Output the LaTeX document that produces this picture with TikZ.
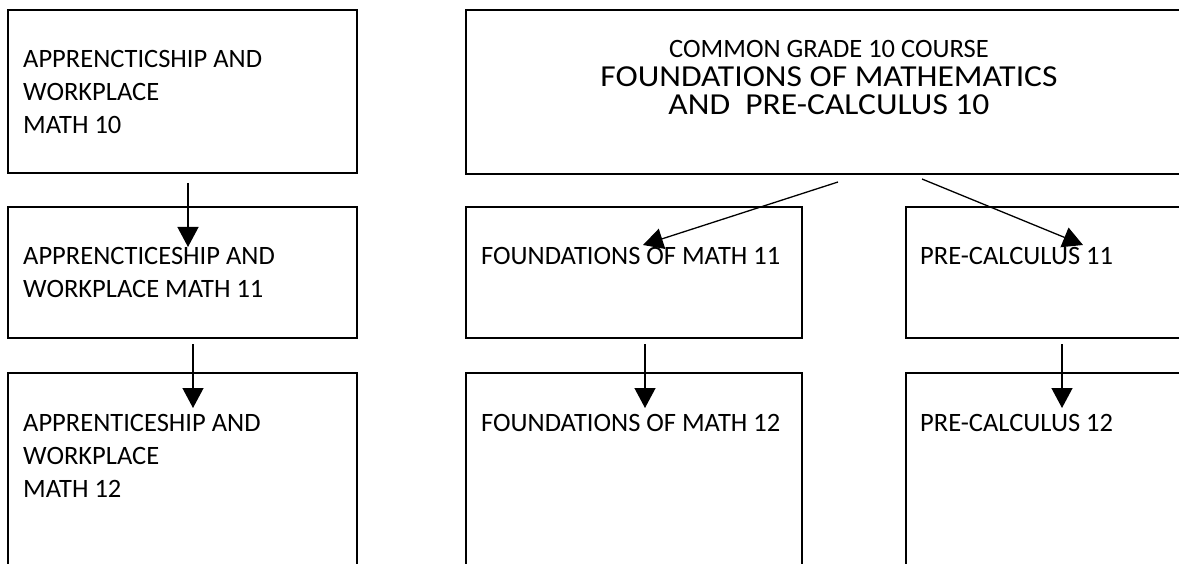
\documentclass[tikz,border=0pt]{standalone}
\usepackage{fontspec}
\setmainfont{Carlito}
\newfontfamily\widecarlito[FakeStretch=1.1]{Carlito}
\usetikzlibrary{arrows.meta,calc}
\tikzset{
  box/.style={draw=black, line width=1.8pt, rectangle, inner sep=0pt, outer sep=0pt, anchor=north west},
  lbl/.style={inner sep=0pt, anchor=base west, align=left, font=\fontsize{26.5}{33}\selectfont},
  ttl/.style={inner sep=0pt, anchor=base},
  arr/.style={draw=black, line width=1.3pt, -{Triangle[length=20pt,width=21pt]}}
}
\begin{document}
\begin{tikzpicture}[x=1pt,y=-1pt]
\useasboundingbox (0,0) rectangle (1179,564);
% boxes
\node[box, minimum width=349pt, minimum height=163pt] (a1) at (8,10) {};
\node[box, minimum width=740pt, minimum height=164pt] (top) at (466,10) {};
\node[box, minimum width=349pt, minimum height=131pt] (a2) at (8,207) {};
\node[box, minimum width=336pt, minimum height=131pt] (f11) at (466,207) {};
\node[box, minimum width=320pt, minimum height=131pt] (p11) at (906,207) {};
\node[box, minimum width=349pt, minimum height=220pt] (a3) at (8,373) {};
\node[box, minimum width=336pt, minimum height=220pt] (f12) at (466,373) {};
\node[box, minimum width=320pt, minimum height=220pt] (p12) at (906,373) {};
% texts (anchor = baseline of the last line)
\node[lbl] (ta1) at ($(a1.north west)+(15,124)$) {APPRENCTICSHIP AND\\WORKPLACE\\MATH 10};
\node[lbl] (ta2) at ($(a2.north west)+(15,91)$) {APPRENCTICESHIP AND\\WORKPLACE MATH 11};
\node[lbl] (ta3) at ($(a3.north west)+(15,124)$) {APPRENTICESHIP AND\\WORKPLACE\\MATH 12};
\node[lbl] (tf11) at ($(f11.north west)+(15,58)$) {FOUNDATIONS OF MATH 11};
\node[lbl] (tf12) at ($(f12.north west)+(15,58)$) {FOUNDATIONS OF MATH 12};
\node[lbl] (tp11) at ($(p11.north west)+(14,58)$) {PRE-CALCULUS 11};
\node[lbl] (tp12) at ($(p12.north west)+(14,58)$) {PRE-CALCULUS 12};
\node[ttl, font=\fontsize{26.5}{30}\selectfont] (tt1) at (829,58) {COMMON GRADE 10 COURSE};
\node[ttl, font=\widecarlito\fontsize{30.5}{30}\selectfont] (tt2) at (829,87) {FOUNDATIONS OF MATHEMATICS};
\node[ttl, font=\widecarlito\fontsize{30.5}{30}\selectfont] (tt3) at (829,115) {AND\ \ PRE-CALCULUS 10};
% connectors
\draw[arr] ($(a1.south west)+(180,10)$) -- ($(a2.north west)+(180,40)$);
\draw[arr] ($(a2.south west)+(185,6)$) -- ($(a3.north west)+(185,35)$);
\draw[arr] ($(f11.south west)+(179,6)$) -- ($(f12.north west)+(179,35)$);
\draw[arr] ($(p11.south west)+(156,6)$) -- ($(p12.north west)+(156,35)$);
\draw[arr] ($(top.south west)+(372,8)$) -- ($(f11.north west)+(177,38)$);
\draw[arr] ($(top.south west)+(456,5)$) -- ($(p11.north west)+(177,38)$);
\end{tikzpicture}
\end{document}
